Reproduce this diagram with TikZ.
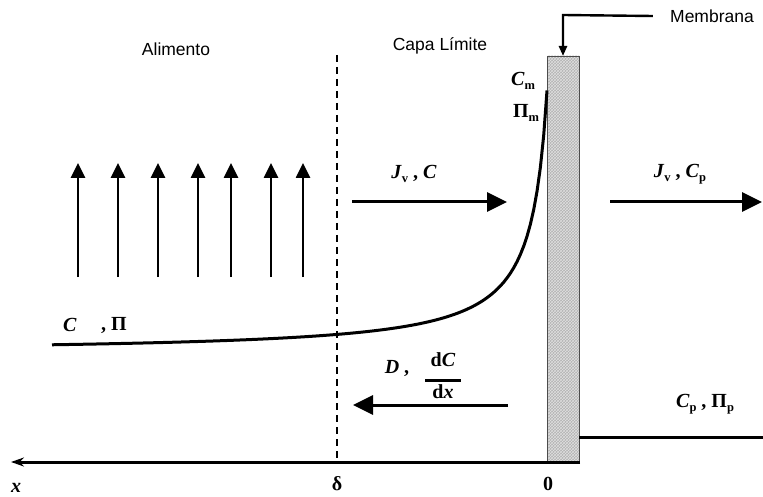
\documentclass[tikz,border=0pt]{standalone}
\usepackage{fontspec}
\setmainfont{Liberation Serif}
\newfontfamily\sansf{Liberation Sans}
\usetikzlibrary{arrows.meta,patterns}
\newcommand\subsc[1]{\raisebox{-0.4ex}{\fontsize{12.5}{13}\selectfont\upshape\bfseries #1}}
\begin{document}
\begin{tikzpicture}[x=1pt,y=-1pt,
  sanslbl/.style={font=\sansf\fontsize{17.5}{20}\selectfont, inner sep=0pt},
  mathlbl/.style={font=\fontsize{20}{20}\selectfont\bfseries, inner sep=0pt},
  bigarrow/.style={line width=3pt, -{Triangle[length=20pt,width=19pt]}},
  uparrow/.style={line width=2.6pt, -{Triangle[length=15pt,width=14pt]}},
  axisline/.style={line width=3pt, -{Stealth[length=13pt,width=9pt]}},
  thinarrow/.style={line width=2.4pt, -{Triangle[length=10pt,width=8pt]}},
  plainline/.style={line width=3pt},
  dashline/.style={line width=2.8pt, dash pattern=on 7pt off 5pt},
  curveline/.style={line width=3pt}]
\useasboundingbox (0,0) rectangle (763,497);

% membrane
\fill[gray!60] (547,56) rectangle (579,462);
\fill[pattern=crosshatch, pattern color=gray!25] (547,56) rectangle (579,462);
\draw[gray!60!black, line width=0.6pt] (547,56) rectangle (579,462);
\coordinate (membtop) at (563,56);

% titles
\node[sanslbl] (alim) at (176,49) {Alimento};
\node[sanslbl] (capa) at (440,46) {Capa Límite};
\node[sanslbl] (memb) at (712,16) {Membrana};
\coordinate (membcorner) at (563,15);
\draw[thinarrow] ([xshift=-17pt]memb.west) -- (membcorner) -- (membtop);

% dashed boundary layer line
\coordinate (dtop) at (337,55);
\coordinate (dbot) at (337,462);
\draw[dashline] (dtop) -- (dbot);

% up arrows
\foreach \xx in {78,118,158,198,231,271,303}
  \draw[uparrow] (\xx,277) -- (\xx,163);

% flux arrows
\coordinate (f1a) at (352,202); \coordinate (f1b) at (507,202);
\draw[bigarrow] (f1a) -- (f1b);
\node[mathlbl] (jvc) at (414,174) {\textit{J}\subsc{v} , \textit{C}};
\coordinate (f2a) at (610,202); \coordinate (f2b) at (762,202);
\draw[bigarrow] (f2a) -- (f2b);
\node[mathlbl] (jvcp) at (680,174) {\textit{J}\subsc{v} , \textit{C}\subsc{p}};

% back diffusion
\coordinate (f3a) at (508,405); \coordinate (f3b) at (353,405);
\draw[bigarrow] (f3a) -- (f3b);
\node[mathlbl] (dlab) at (397,368) {\textit{D} ,};
\node[mathlbl, align=center] (frac) at (443,376) {d\textit{C}\\[-5pt]\rule{36pt}{2.6pt}\\[-3pt]d\textit{x}};

% concentration profile
\draw[curveline] plot[domain=52:547, samples=150] (\x,{353-4200/(563-\x)});
\node[mathlbl] (cm) at (523,81) {\textit{C}\subsc{m}};
\node[mathlbl] (pim) at (526,113) {Π\subsc{m}};
\node[mathlbl] (cleft) at (70,325) {\textit{C}};
\node[mathlbl] (pileft) at (114,325) {, Π};

% permeate
\coordinate (pa) at (579,437); \coordinate (pb) at (763,437);
\draw[plainline] (pa) -- (pb);
\node[mathlbl] (cppi) at (705,404) {\textit{C}\subsc{p} , Π\subsc{p}};

% axis
\coordinate (ax1) at (580,462); \coordinate (ax2) at (11,462);
\draw[axisline] (ax1) -- (ax2);
\node[mathlbl] (xl) at (16,488) {\textit{x}};
\node[mathlbl] (dl) at (337,484) {δ};
\node[mathlbl] (zl) at (548,484) {0};
\end{tikzpicture}
\end{document}
